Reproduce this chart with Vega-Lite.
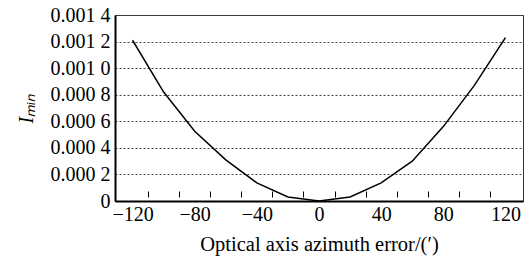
{
  "$schema": "https://vega.github.io/schema/vega-lite/v6.json",
  "width": 408,
  "height": 186,
  "autosize": "none",
  "padding": {"left": 115, "top": 15, "right": 2, "bottom": 65},
  "background": "white",
  "config": {
    "view": {"stroke": "#333", "strokeWidth": 1},
    "font": "Liberation Serif",
    "axis": {"labelFont": "Liberation Serif", "titleFont": "Liberation Serif", "labelColor": "black", "titleColor": "black", "titleFontWeight": "normal"}
  },
  "data": {"values": [
    {"x": -120, "y": 0.00121},
    {"x": -100, "y": 0.00082},
    {"x": -80, "y": 0.000525},
    {"x": -60, "y": 0.00031},
    {"x": -40, "y": 0.000136},
    {"x": -20, "y": 0.00003},
    {"x": 0, "y": 0},
    {"x": 20, "y": 0.00003},
    {"x": 40, "y": 0.000136},
    {"x": 60, "y": 0.0003},
    {"x": 80, "y": 0.00056},
    {"x": 100, "y": 0.00087},
    {"x": 120, "y": 0.00123}
  ]},
  "layer": [
    {
      "mark": {"type": "line", "color": "black", "strokeWidth": 1.5},
      "encoding": {
        "x": {"field": "x", "type": "quantitative", "scale": {"domain": [-131.3, 131.3], "nice": false, "zero": false},
          "axis": {"orient": "bottom", "values": [-120, -80, -40, 0, 40, 80, 120], "ticks": false,
            "labelFontSize": 20, "labelPadding": 3, "domainColor": "black", "domainWidth": 2, "grid": false,
            "title": "Optical axis azimuth error/(′)", "titleFontSize": 20.5, "titlePadding": 10}},
        "y": {"field": "y", "type": "quantitative", "scale": {"domain": [0, 0.0014], "nice": false},
          "axis": {"values": [0, 0.0002, 0.0004, 0.0006, 0.0008, 0.001, 0.0012, 0.0014], "ticks": false, "labelFontSize": 20, "labelPadding": 5,
            "labelExpr": "datum.value == 0 ? '0' : slice(format(datum.value, '.4f'), 0, 5) + ' ' + slice(format(datum.value, '.4f'), 5)",
            "domainColor": "black", "domainWidth": 2, "grid": true, "gridColor": "#444", "gridDash": [2, 2], "gridWidth": 1,
            "title": "Iₘᵢₙ", "titleFontStyle": "italic", "titleFontSize": 20, "titlePadding": 14}}
      }
    },
    {
      "mark": {"type": "line", "opacity": 0},
      "encoding": {
        "x": {"field": "x", "type": "quantitative",
          "axis": {"orient": "top", "offset": -182, "values": [-110, -90, -70, -50, -30, -10, 10, 30, 50, 70, 90, 110],
            "labels": false, "domain": false, "ticks": true, "tickSize": 6, "tickColor": "black", "tickWidth": 1, "title": null, "grid": false}},
        "y": {"field": "y", "type": "quantitative", "scale": {"domain": [0, 0.0014], "nice": false},
          "axis": {"values": [0, 0.0002, 0.0004, 0.0006, 0.0008, 0.001, 0.0012, 0.0014], "ticks": false, "labelFontSize": 20, "labelPadding": 5,
            "labelExpr": "datum.value == 0 ? '0' : slice(format(datum.value, '.4f'), 0, 5) + ' ' + slice(format(datum.value, '.4f'), 5)",
            "domainColor": "black", "domainWidth": 2, "grid": true, "gridColor": "#444", "gridDash": [2, 2], "gridWidth": 1,
            "title": "Iₘᵢₙ", "titleFontStyle": "italic", "titleFontSize": 20, "titlePadding": 14}}
      }
    }
  ],
  "resolve": {"axis": {"x": "independent"}}
}
